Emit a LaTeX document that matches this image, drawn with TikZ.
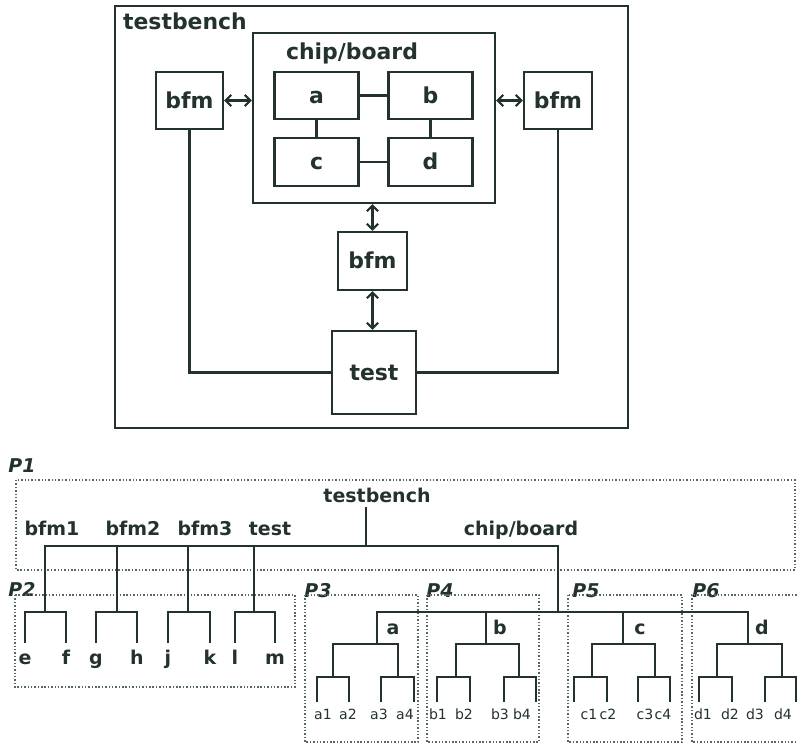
\documentclass[tikz,border=0pt]{standalone}
\usepackage{fontspec}
\setmainfont{DejaVu Sans}[ItalicFont={DejaVu Sans Oblique},BoldFont={DejaVu Sans Bold},BoldItalicFont={DejaVu Sans Bold Oblique}]
\usetikzlibrary{arrows.meta}
\definecolor{ink}{RGB}{35,50,45}
\definecolor{dotc}{RGB}{85,105,95}

\begin{document}
\begin{tikzpicture}[
        x=0.025cm, y=-0.025cm,
        blk/.style={rectangle, draw=ink, line width=1.5pt, inner sep=0pt, text=ink, font=\bfseries\fontsize{15.6}{18}\selectfont, text height=11pt, text depth=0pt},
        lbl/.style={inner sep=0pt, text=ink, font=\bfseries\fontsize{15.6}{18}\selectfont},
        conn/.style={draw=ink, line width=1.5pt},
        bus/.style={conn, {Straight Barb[length=4pt,width=8pt]}-{Straight Barb[length=4pt,width=8pt]}},
        part/.style={draw=dotc, line width=1.1pt, dash pattern=on 1pt off 1.4pt},
        plbl/.style={inner sep=0pt, text=ink, font=\bfseries\itshape\fontsize{13.5}{16}\selectfont},
        tlbl/.style={inner sep=0pt, text=ink, font=\bfseries\fontsize{13.5}{16}\selectfont, text height=10pt, text depth=3pt},
        leaf/.style={inner sep=0pt, text=ink, font=\fontsize{10}{12}\selectfont, text height=7.5pt, text depth=0pt},
        tree/.style={draw=ink, line width=1.25pt}
    ]
        \useasboundingbox (0,0) rectangle (797,744);

        % Testbench block diagram
        \node[blk, minimum width=12.825cm, minimum height=10.55cm] (tb) at (371.5,217) {};
        \node[lbl] (tbname) at (185,21) {testbench};
        \node[blk, minimum width=6.05cm, minimum height=4.25cm] (cb) at (374,118) {};
        \node[lbl] (cbname) at (352,53) {chip/board};
        \node[blk, minimum width=2.1cm, minimum height=1.175cm] (a) at (316.5,95.5) {a};
        \node[blk, minimum width=2.1cm, minimum height=1.175cm] (b) at (430.5,95.5) {b};
        \node[blk, minimum width=2.1cm, minimum height=1.2cm] (c) at (316.5,162) {c};
        \node[blk, minimum width=2.1cm, minimum height=1.2cm] (d) at (430.5,162) {d};
        \draw[conn] (a) -- (b);
        \draw[conn] (c) -- (d);
        \draw[conn] (a) -- (c);
        \draw[conn] (b) -- (d);

        \node[blk, minimum width=1.675cm, minimum height=1.425cm] (bfml) at (189.5,100.5) {bfm};
        \node[blk, minimum width=1.7cm, minimum height=1.425cm] (bfmr) at (558,100.5) {bfm};
        \node[blk, minimum width=1.725cm, minimum height=1.45cm] (bfmm) at (372.5,261) {bfm};
        \node[blk, minimum width=2.1cm, minimum height=2.075cm] (test) at (374,372.5) {test};

        \draw[bus] (bfml.east) -- (bfml.east -| cb.west);
        \draw[bus] (bfmr.west) -- (bfmr.west -| cb.east);
        \draw[bus] (bfmm.north |- cb.south) -- (bfmm.north);
        \draw[bus] (bfmm.south) -- (bfmm.south |- test.north);
        \draw[conn] (bfml) |- (test);
        \draw[conn] (bfmr) |- (test);

        % Partitions
        \node[plbl] (p1) at (22,466) {P1};
        \node[plbl] (p2) at (22,589) {P2};
        \node[plbl] (p3) at (318,591) {P3};
        \node[plbl] (p4) at (440,591) {P4};
        \node[plbl] (p5) at (586,591) {P5};
        \node[plbl] (p6) at (706,591) {P6};
        \draw[part] (16,480) rectangle (795,570);
        \draw[part] (15,595) rectangle (295,687);
        \draw[part] (305,595) rectangle (418,742);
        \draw[part] (427,595) rectangle (539,742);
        \draw[part] (568,595) rectangle (682,742);
        \draw[part] (800,595) -- (692,595) -- (692,742) -- (800,742);

        % Hierarchy: top level
        \node[tlbl] (ttb) at (377,498) {testbench};
        \node[tlbl] (tbfm1) at (52,531) {bfm1};
        \node[tlbl] (tbfm2) at (133,531) {bfm2};
        \node[tlbl] (tbfm3) at (205,531) {bfm3};
        \node[tlbl] (ttest) at (270,531) {test};
        \node[tlbl] (tcb) at (521,531) {chip/board};

        \coordinate (jtb) at (366,546);
        \coordinate (jbfm1) at (45,612);
        \coordinate (jbfm2) at (117,612);
        \coordinate (jbfm3) at (188,612);
        \coordinate (jtest) at (254,612);
        \coordinate (jcb) at (558,612);
        \draw[tree] (jtb |- ttb.south) -- (jtb);
        \draw[tree] (jbfm1) |- (jtb) -| (jcb);
        \draw[tree] (jbfm2) -- (jbfm2 |- jtb);
        \draw[tree] (jbfm3) -- (jbfm3 |- jtb);
        \draw[tree] (jtest) -- (jtest |- jtb);

        % P2: bfm and test children
        \coordinate (te) at (25,643);
        \coordinate (tf) at (66,643);
        \coordinate (tg) at (96,643);
        \coordinate (th) at (137,643);
        \coordinate (tj) at (168,643);
        \coordinate (tk) at (210,643);
        \coordinate (tl) at (235,643);
        \coordinate (tm) at (275,643);
        \draw[tree] (te) |- (jbfm1) -| (tf);
        \draw[tree] (tg) |- (jbfm2) -| (th);
        \draw[tree] (tj) |- (jbfm3) -| (tk);
        \draw[tree] (tl) |- (jtest) -| (tm);
        \node[tlbl] (le) at (25,660) {e};
        \node[tlbl] (lf) at (66,660) {f};
        \node[tlbl] (lg) at (96,660) {g};
        \node[tlbl] (lh) at (137,660) {h};
        \node[tlbl] (lj) at (168,660) {j};
        \node[tlbl] (lk) at (210,660) {k};
        \node[tlbl] (ll) at (235,660) {l};
        \node[tlbl] (lm) at (275,660) {m};

        % P3 - P6: chip/board children
        \coordinate (ja) at (377,644);
        \coordinate (jb) at (486,644);
        \coordinate (jc) at (623,644);
        \coordinate (jd) at (748,644);
        \draw[tree] (ja) |- (jcb) -| (jd);
        \draw[tree] (jb) -- (jb |- jcb);
        \draw[tree] (jc) -- (jc |- jcb);
        \node[tlbl] (la) at (393,630) {a};
        \node[tlbl] (lb) at (500,630) {b};
        \node[tlbl] (lc) at (640,630) {c};
        \node[tlbl] (ld) at (762,630) {d};

        \coordinate (jal) at (333,677);
        \coordinate (jar) at (398,677);
        \coordinate (jbl) at (456,677);
        \coordinate (jbr) at (519,677);
        \coordinate (jcl) at (592,677);
        \coordinate (jcr) at (655,677);
        \coordinate (jdl) at (717,677);
        \coordinate (jdr) at (782,677);
        \draw[tree] (jal) |- (ja) -| (jar);
        \draw[tree] (jbl) |- (jb) -| (jbr);
        \draw[tree] (jcl) |- (jc) -| (jcr);
        \draw[tree] (jdl) |- (jd) -| (jdr);

        \coordinate (ta1) at (317,702);
        \coordinate (ta2) at (349,702);
        \coordinate (ta3) at (381,702);
        \coordinate (ta4) at (414,702);
        \coordinate (tb1) at (437,702);
        \coordinate (tb2) at (470,702);
        \coordinate (tb3) at (504,702);
        \coordinate (tb4) at (536,702);
        \coordinate (tc1) at (574,702);
        \coordinate (tc2) at (607,702);
        \coordinate (tc3) at (638,702);
        \coordinate (tc4) at (670,702);
        \coordinate (td1) at (699,702);
        \coordinate (td2) at (732,702);
        \coordinate (td3) at (765,702);
        \coordinate (td4) at (796,702);
        \draw[tree] (ta1) |- (jal) -| (ta2);
        \draw[tree] (ta3) |- (jar) -| (ta4);
        \draw[tree] (tb1) |- (jbl) -| (tb2);
        \draw[tree] (tb3) |- (jbr) -| (tb4);
        \draw[tree] (tc1) |- (jcl) -| (tc2);
        \draw[tree] (tc3) |- (jcr) -| (tc4);
        \draw[tree] (td1) |- (jdl) -| (td2);
        \draw[tree] (td3) |- (jdr) -| (td4);

        \node[leaf] (la1) at (323,714) {a1};
        \node[leaf] (la2) at (348,714) {a2};
        \node[leaf] (la3) at (379,714) {a3};
        \node[leaf] (la4) at (405,714) {a4};
        \node[leaf] (lb1) at (438,714) {b1};
        \node[leaf] (lb2) at (464,714) {b2};
        \node[leaf] (lb3) at (500,714) {b3};
        \node[leaf] (lb4) at (522,714) {b4};
        \node[leaf] (lc1) at (589,714) {c1};
        \node[leaf] (lc2) at (608,714) {c2};
        \node[leaf] (lc3) at (645,714) {c3};
        \node[leaf] (lc4) at (663,714) {c4};
        \node[leaf] (ld1) at (703,714) {d1};
        \node[leaf] (ld2) at (730,714) {d2};
        \node[leaf] (ld3) at (755,714) {d3};
        \node[leaf] (ld4) at (783,714) {d4};
\end{tikzpicture}
\end{document}
